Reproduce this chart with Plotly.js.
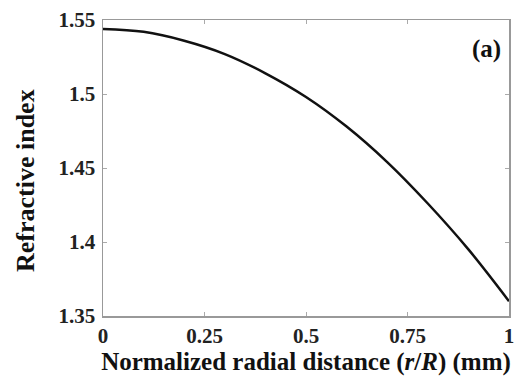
<!DOCTYPE html>
<html>
<head>
<meta charset="utf-8">
<script src="https://cdn.plot.ly/plotly-3.0.1.min.js"></script>
<style>
html,body{margin:0;padding:0;background:#fff;}
#chart{width:526px;height:378px;}
</style>
</head>
<body>
<div id="chart"></div>
<script>
// Normalized radial distance (r/R)
const radialDistance = [0, 0.1, 0.2, 0.3, 0.4, 0.5, 0.6, 0.7, 0.8, 0.9, 1.0];
// Refractive index
const refractiveIndex = [1.544, 1.542, 1.536, 1.527, 1.514, 1.498, 1.478, 1.454, 1.426, 1.395, 1.360];
const xTickVals = [0, 0.25, 0.5, 0.75, 1];
const xTickText = ['0', '0.25', '0.5', '0.75', '1'];
const yTickVals = [1.35, 1.4, 1.45, 1.5, 1.55];
const yTickText = ['1.35', '1.4', '1.45', '1.5', '1.55'];

const serif = 'Liberation Serif';

const trace = {
  x: radialDistance,
  y: refractiveIndex,
  type: 'scatter',
  mode: 'lines',
  line: {color: '#111', width: 2.5, shape: 'spline'},
  hoverinfo: 'skip'
};

const axisCommon = {
  showline: true,
  linecolor: '#999',
  linewidth: 1.5,
  mirror: 'ticks',
  ticks: 'inside',
  ticklen: 4,
  tickcolor: '#aaa',
  showgrid: false,
  zeroline: false,
  tickfont: {family: serif, size: 21, color: '#222', weight: 'bold'}
};

const layout = {
  width: 526,
  height: 378,
  margin: {l: 103, r: 17, t: 20, b: 62},
  paper_bgcolor: '#fff',
  plot_bgcolor: '#fff',
  showlegend: false,
  font: {family: serif},
  xaxis: Object.assign({}, axisCommon, {
    range: [0, 1],
    tickmode: 'array',
    tickvals: xTickVals,
    ticktext: xTickText,
    title: {text: '<b>Normalized radial distance (<i>r</i>/<i>R</i>) (mm)</b>', font: {family: serif, size: 25, color: '#111'}, standoff: 2}
  }),
  yaxis: Object.assign({}, axisCommon, {
    range: [1.35, 1.55],
    tickmode: 'array',
    tickvals: yTickVals,
    ticktext: yTickText,
    ticklabelstandoff: 2
  }),
  annotations: [{
    text: '<b>(a)</b>',
    xref: 'paper', yref: 'paper',
    x: 0.985, y: 0.955,
    xanchor: 'right', yanchor: 'top',
    showarrow: false,
    font: {family: serif, size: 25, color: '#111'}
  }, {
    text: '<b>Refractive index</b>',
    xref: 'paper', yref: 'paper',
    x: 0, y: 0.5,
    xshift: -78, yshift: -13,
    xanchor: 'center', yanchor: 'middle',
    textangle: -90,
    showarrow: false,
    font: {family: serif, size: 26, color: '#111'}
  }]
};

Plotly.newPlot('chart', [trace], layout, {displayModeBar: false, staticPlot: true});
</script>
</body>
</html>
